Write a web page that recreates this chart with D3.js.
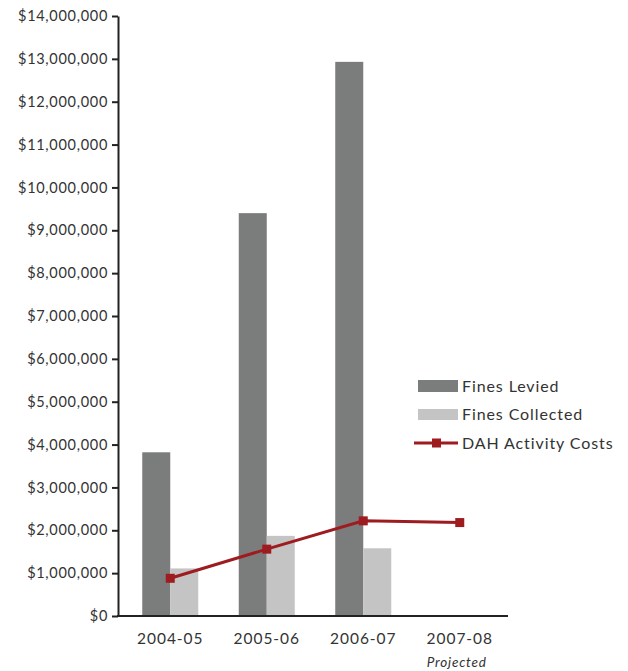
<!DOCTYPE html>
<html>
<head>
<meta charset="utf-8">
<script src="https://cdn.jsdelivr.net/npm/d3@7"></script>
<style>
  body { margin: 0; background: #fff; }
  text { font-family: Lato, "Open Sans", sans-serif; fill: #333; }
</style>
</head>
<body>
<svg width="628" height="671"></svg>
<script>
var years = ["2004-05", "2005-06", "2006-07", "2007-08"];
var finesLevied = [3820000, 9400000, 12930000, null];
var finesCollected = [1110000, 1870000, 1580000, null];
var dahCosts = [880000, 1560000, 2220000, 2180000];
var yTicks = d3.range(0, 14000001, 1000000);

var svg = d3.select("svg");

var xScale = d3.scaleBand()
                .domain(years)
                .range([122, 508]);

var yScale = d3.scaleLinear()
                .domain([0, 14000000])
                .range([616, 16]);

var barW = 28;
var fmt = d3.format("$,");

// bars
var levied = years.map((y, i) => ({ year: y, v: finesLevied[i] })).filter(d => d.v !== null);
var collected = years.map((y, i) => ({ year: y, v: finesCollected[i] })).filter(d => d.v !== null);

svg.append("g").selectAll("rect")
  .data(levied)
  .enter()
  .append("rect")
    .attr("x", d => xScale(d.year) + xScale.bandwidth() / 2 - barW)
    .attr("y", d => yScale(d.v))
    .attr("width", barW)
    .attr("height", d => yScale(0) - yScale(d.v))
    .attr("fill", "#7b7d7d");

svg.append("g").selectAll("rect")
  .data(collected)
  .enter()
  .append("rect")
    .attr("x", d => xScale(d.year) + xScale.bandwidth() / 2)
    .attr("y", d => yScale(d.v))
    .attr("width", barW)
    .attr("height", d => yScale(0) - yScale(d.v))
    .attr("fill", "#c4c4c4");

// axes
var yAxis = d3.axisLeft(yScale)
                .tickValues(yTicks)
                .tickFormat(fmt)
                .tickSize(6)
                .tickSizeOuter(0)
                .tickPadding(4);

var yg = svg.append("g")
    .attr("transform", "translate(118,0)")
    .call(yAxis);
yg.select(".domain").attr("stroke", "#222").attr("stroke-width", 2);
yg.selectAll(".tick line").attr("stroke", "#222").attr("stroke-width", 2);
yg.selectAll(".tick text")
    .style("font-size", "14.5px")
    .style("letter-spacing", "0.7px")
    .attr("fill", "#333");

var xAxis = d3.axisBottom(xScale)
                .tickSize(0)
                .tickSizeOuter(0)
                .tickPadding(17);

var xg = svg.append("g")
    .attr("transform", "translate(0,616)")
    .call(xAxis);
xg.select(".domain").attr("d", "M117,0H508").attr("stroke", "#222").attr("stroke-width", 2);
xg.selectAll(".tick text")
    .style("font-size", "15.5px")
    .style("letter-spacing", "1px")
    .attr("fill", "#333");

svg.append("text")
    .attr("x", xScale("2007-08") + xScale.bandwidth() / 2 - 3)
    .attr("y", 667)
    .style("text-anchor", "middle")
    .style("font-size", "13.5px")
    .style("font-style", "italic")
    .style("letter-spacing", "0.8px")
    .text("Projected");

// DAH line
var line = d3.line()
    .x((d, i) => xScale(years[i]) + xScale.bandwidth() / 2)
    .y(d => yScale(d));

svg.append("path")
    .datum(dahCosts)
    .attr("d", line)
    .attr("fill", "none")
    .attr("stroke", "#9e1b20")
    .attr("stroke-width", 3);

svg.append("g").selectAll("rect")
  .data(dahCosts)
  .enter()
  .append("rect")
    .attr("x", (d, i) => xScale(years[i]) + xScale.bandwidth() / 2 - 4.5)
    .attr("y", d => yScale(d) - 4.5)
    .attr("width", 9)
    .attr("height", 9)
    .attr("fill", "#9e1b20");

// legend
var legend = svg.append("g").attr("transform", "translate(418,386)");
legend.append("rect").attr("x", 0).attr("y", -6).attr("width", 40).attr("height", 12).attr("fill", "#7b7d7d");
legend.append("rect").attr("x", 0).attr("y", 23).attr("width", 40).attr("height", 11).attr("fill", "#c4c4c4");
legend.append("line").attr("x1", -4).attr("x2", 40).attr("y1", 57).attr("y2", 57)
    .attr("stroke", "#9e1b20").attr("stroke-width", 3);
legend.append("rect").attr("x", 14).attr("y", 52.5).attr("width", 9).attr("height", 9).attr("fill", "#9e1b20");

var legendLabels = ["Fines Levied", "Fines Collected", "DAH Activity Costs"];
legend.selectAll("text.lbl")
  .data(legendLabels)
  .enter()
  .append("text")
    .attr("x", 44)
    .attr("y", (d, i) => i * 28.5)
    .attr("dy", "0.35em")
    .style("font-size", "16px")
    .style("letter-spacing", "0.9px")
    .text(d => d);
</script>
</body>
</html>
